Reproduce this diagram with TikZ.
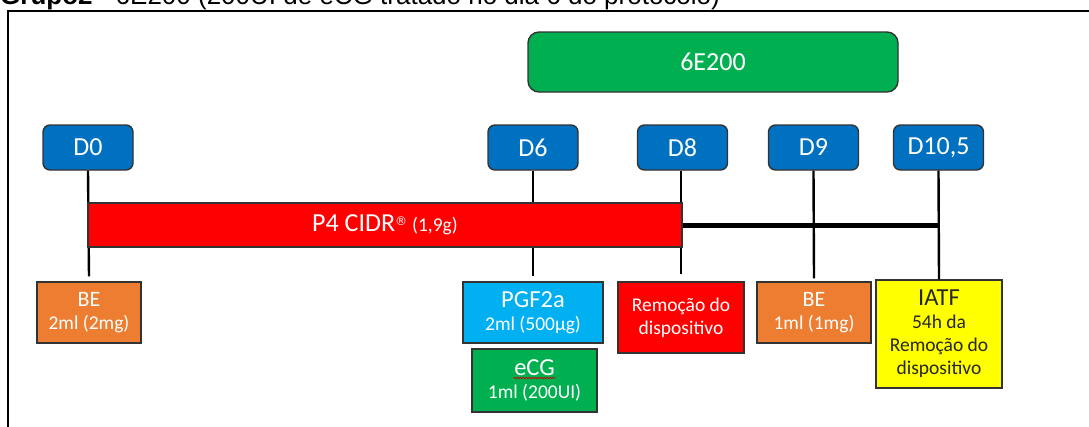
\documentclass[tikz,border=0pt]{standalone}
\usepackage{fontspec}
\setmainfont{Carlito}
\newfontfamily\titlefont{Liberation Sans}
\newfontfamily\symfont{DejaVu Sans}
\usetikzlibrary{decorations.pathmorphing}

\definecolor{dayblue}{HTML}{0070C0}
\definecolor{grpgreen}{HTML}{00B050}
\definecolor{devred}{HTML}{FF0000}
\definecolor{beorange}{HTML}{ED7D31}
\definecolor{pgfblue}{HTML}{00B0F0}
\definecolor{iatfyellow}{HTML}{FFFF00}
\definecolor{edge}{HTML}{333333}

\newcommand{\fs}[1]{\fontsize{#1}{23}\selectfont}

\tikzset{
  daybox/.style={draw=edge, line width=1.4pt, fill=dayblue, rounded corners=7pt,
    minimum width=90pt, minimum height=45pt, inner sep=0pt, text=white, font=\fs{26}},
  drugbox/.style={draw=edge, line width=1.4pt, inner sep=0pt, align=center,
    text=white, font=\fs{19.5}},
  link/.style={line width=2.4pt, black},
  trunk/.style={line width=5pt, black},
}

\begin{document}
\begin{tikzpicture}[x=1pt, y=-1pt]
  \useasboundingbox (0,0) rectangle (1089,426);
  \clip (0,0) rectangle (1089,426);

  % heading and frame
  \node[anchor=base west, inner sep=0pt, font=\titlefont\fontsize{26}{28}\selectfont] (title) at (0,4.5)
    {\textbf{Grupo2} - 6E200 (200UI de eCG tratado no dia 6 do protocolo)};
  \draw[line width=2.2pt] (8,440) -- (8,11) -- (1100,11);

  % group label
  \node[draw=edge, line width=1.4pt, fill=grpgreen, rounded corners=11pt,
        minimum width=370pt, minimum height=60pt, inner sep=0pt, text=white, font=\fs{26}]
        (grp) at (713,62) {6E200};

  % day markers
  \node[daybox] (d0)  at (88,147.5)  {D0};
  \node[daybox] (d6)  at (533,147.5) {D6};
  \node[daybox] (d8)  at (682.5,147.5) {D8};
  \node[daybox] (d9)  at (813.5,147.5) {D9};
  \node[daybox] (d105) at (938.5,147.5) {D10,5};

  % treatments
  \node[drugbox, fill=beorange, minimum width=104pt, minimum height=61pt] (be1) at (89,312.5)
    {{\fs{22}BE}\\2ml (2mg)};
  \node[drugbox, fill=pgfblue, minimum width=140pt, minimum height=61pt] (pgf) at (533,312.5)
    {{\fs{24.5}PGF2a}\\2ml (500µg)};
  \node[drugbox, fill=grpgreen, minimum width=125pt, minimum height=63pt] (ecg) at (534.5,380.5)
    {{\fs{24.5}eCG}\\1ml (200UI)};
  \node[drugbox, fill=devred, minimum width=126pt, minimum height=71pt] (rem) at (681,317.5)
    {Remoção do\\dispositivo};
  \node[drugbox, fill=beorange, minimum width=114pt, minimum height=61pt] (be2) at (814,312.5)
    {{\fs{22}BE}\\1ml (1mg)};
  \node[drugbox, fill=iatfyellow, text=black!85, minimum width=126pt, minimum height=108pt] (iatf) at (939,334)
    {{\fs{24.5}IATF}\\54h da\\Remoção do\\dispositivo};

  % spell-check squiggle under eCG
  \draw[red!80!black, line width=0.7pt, decorate,
        decoration={snake, amplitude=0.8pt, segment length=3pt}]
    ([shift={(-21,-2.5)}]ecg.center) -- ([shift={(21,-2.5)}]ecg.center);

  % connectors from each day to its treatment
  \draw[link] (d0.south) -- ([yshift=5pt]be1.north);
  \draw[link] (d6.south) -- ([yshift=5pt]pgf.north);
  \draw[link] (d8.south -| rem.north) -- ([yshift=7pt]rem.north);
  \draw[link] (d9.south) -- ([yshift=3pt]be2.north);
  \draw[link] (d105.south) -- (iatf.north);

  % device bar
  \node[draw=edge, line width=1.2pt, fill=devred, minimum width=594pt, minimum height=44pt,
        inner sep=0pt, text=white, font=\fs{26}] (cidr) at (385,225)
    {P4 CIDR\raisebox{6pt}{\symfont\fs{12}®}\hspace{5pt}{\fs{19.5}(1,9g)}};
  \draw[trunk] (cidr.east) -- (cidr.east -| d105);
\end{tikzpicture}
\end{document}
